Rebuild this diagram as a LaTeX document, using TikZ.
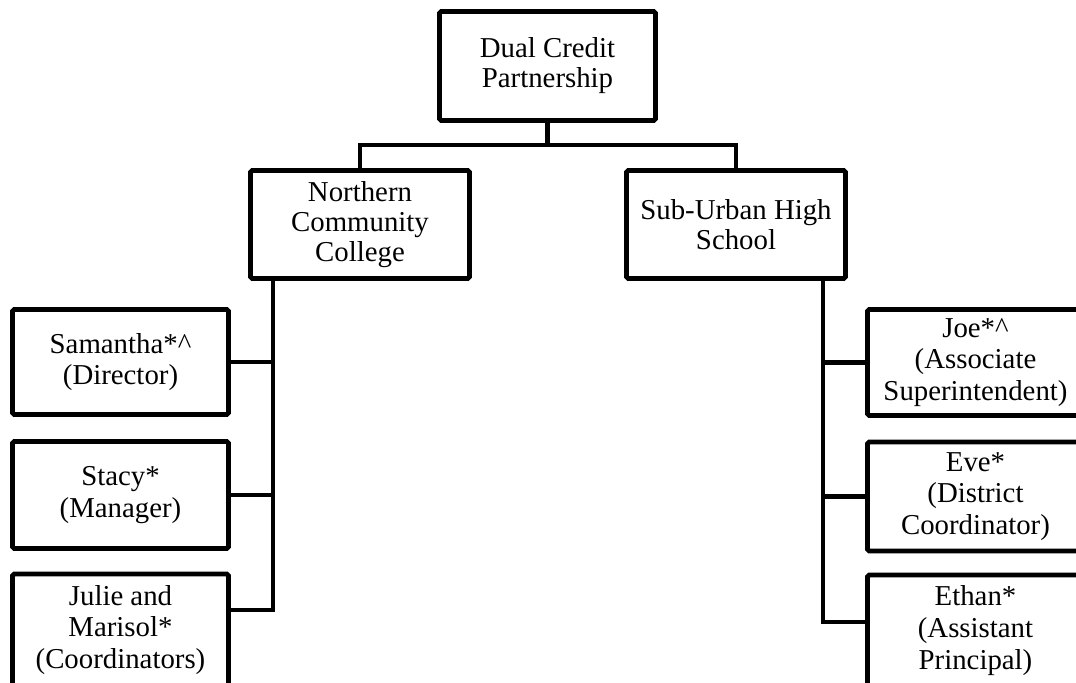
\documentclass[tikz,border=0pt]{standalone}
\usepackage{fontspec}
\setmainfont{Liberation Serif}
\begin{document}
\begin{tikzpicture}[x=0.02cm,y=-0.02cm,line width=2.7pt,
  unit/.style={draw,rounded corners=1pt,align=center,inner sep=2pt,
    font=\fontsize{16.4pt}{17pt}\selectfont},
  head/.style={unit,minimum width=4.32cm,minimum height=2.18cm},
  branch/.style={unit,minimum width=4.38cm,minimum height=2.16cm},
  person/.style={unit,minimum width=4.32cm,minimum height=2.12cm,
    font=\fontsize{16.4pt}{18pt}\selectfont}]
\useasboundingbox (0,0) rectangle (1076,683);
\clip (0,0) rectangle (1076,683);
% top of the partnership
\node[head] (dcp) at (547.5,66) {Dual Credit\\Partnership};
\node[branch] (ncc) at (360,224.5) {Northern\\Community\\College};
\node[branch] (suhs) at (736,224.5) {Sub-Urban High\\School};
% college side
\node[person,minimum height=2.1cm] (sam) at (120.5,362) {Samantha*\^{}\\(Director)};
\node[person,minimum height=2.14cm] (sta) at (120.5,495) {Stacy*\\(Manager)};
\node[person,minimum height=2.24cm] (jm) at (120.5,630) {Julie and\\Marisol*\\(Coordinators)};
% school side
\node[person] (joe) at (975.5,362.5) {Joe*\^{}\\(Associate\\Superintendent)};
\node[person,minimum height=2.18cm] (eve) at (975.5,496.5) {Eve*\\(District\\Coordinator)};
\node[person,minimum height=2.22cm] (eth) at (975.5,630.5) {Ethan*\\(Assistant\\Principal)};
% connectors
\coordinate (split) at (547.5,145);
\coordinate (lt) at (273,0);
\coordinate (rt) at (823,0);
\draw (dcp.south) -- (split);
\draw (ncc.north) |- (split) -| (suhs.north);
\draw (lt |- ncc.south) |- ([yshift=0.4cm]jm.east);
\draw (lt |- sam.east) -- (sam.east);
\draw (lt |- sta.east) -- (sta.east);
\draw (rt |- suhs.south) |- ([yshift=0.17cm]eth.west);
\draw (rt |- joe.west) -- (joe.west);
\draw (rt |- eve.west) -- (eve.west);
\end{tikzpicture}
\end{document}
